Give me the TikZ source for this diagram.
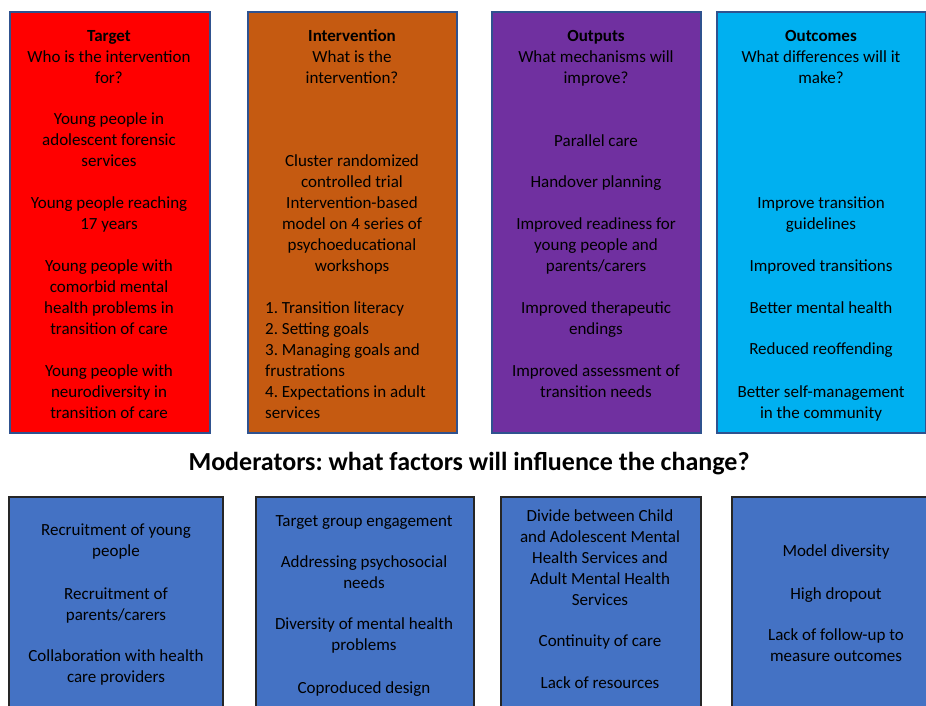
\documentclass[tikz,border=0pt]{standalone}
\usepackage{fontspec}
\setmainfont{Carlito}
\frenchspacing

\definecolor{tgtred}{HTML}{FF0000}
\definecolor{intorange}{HTML}{C55A11}
\definecolor{outpurple}{HTML}{7030A0}
\definecolor{occyan}{HTML}{00B0F0}
\definecolor{modblue}{HTML}{4472C4}
\definecolor{boxedge}{HTML}{2F528F}

\tikzset{
  colbox/.style={draw=boxedge, line width=1.5pt, anchor=north west, inner sep=0pt,
                 minimum height=421pt},
  modbox/.style={draw=black!85, line width=2pt, fill=modblue, anchor=north west,
                 inner sep=0pt, minimum height=240pt},
  % nodes are placed at the baseline of their last line
  txt/.style={font=\fontsize{17}{20.9}\selectfont, align=center, anchor=base, inner sep=0pt},
}

\begin{document}
\begin{tikzpicture}[x=1pt,y=-1pt]
    \useasboundingbox (0,0) rectangle (926,705);
    % logic model columns
    \node[colbox, fill=tgtred,    minimum width=200pt] (target)  at (9,11)   {};
    \node[colbox, fill=intorange, minimum width=209pt] (interv)  at (247,11) {};
    \node[colbox, fill=outpurple, minimum width=209pt] (outputs) at (491,11) {};
    \node[colbox, fill=occyan,    minimum width=209pt] (outcome) at (716,11) {};
    % target
    \node[txt] (tgthead) at (109,83)  {\textbf{Target}\\Who is the intervention\\for?};
    \node[txt] (tgt1)    at (109,166) {Young people in\\adolescent forensic\\services};
    \node[txt] (tgt2)    at (109,229) {Young people reaching\\17 years};
    \node[txt] (tgt3)    at (109,334) {Young people with\\comorbid mental\\health problems in\\transition of care};
    \node[txt] (tgt4)    at (109,418) {Young people with\\neurodiversity in\\transition of care};
    % intervention
    \node[txt] (inthead) at (352,83)  {\textbf{Intervention}\\What is the\\intervention?};
    \node[txt] (int1)    at (352,271) {Cluster randomized\\controlled trial\\Intervention-based\\model on 4 series of\\psychoeducational\\workshops};
    \node[txt, anchor=base west, align=left] (int2) at (265,418)
        {1. Transition literacy\\2. Setting goals\\3. Managing goals and\\frustrations\\4. Expectations in adult\\services};
    % outputs
    \node[txt] (outhead) at (596,83)  {\textbf{Outputs}\\What mechanisms will\\improve?};
    \node[txt] (out1)    at (596,146) {Parallel care};
    \node[txt] (out2)    at (596,187) {Handover planning};
    \node[txt] (out3)    at (596,271) {Improved readiness for\\young people and\\parents/carers};
    \node[txt] (out4)    at (596,334) {Improved therapeutic\\endings};
    \node[txt] (out5)    at (596,397) {Improved assessment of\\transition needs};
    % outcomes
    \node[txt] (ochead)  at (821,83)  {\textbf{Outcomes}\\What differences will it\\make?};
    \node[txt] (oc1)     at (821,229) {Improve transition\\guidelines};
    \node[txt] (oc2)     at (821,271) {Improved transitions};
    \node[txt] (oc3)     at (821,313) {Better mental health};
    \node[txt] (oc4)     at (821,354) {Reduced reoffending};
    \node[txt] (oc5)     at (821,418) {Better self-management\\in the community};

    \node[anchor=base, inner sep=0pt, font=\fontsize{26}{30}\selectfont\bfseries] (modtitle)
        at (469,470) {Moderators: what factors will influence the change?};

    % moderators
    \node[modbox, minimum width=214pt] (mod1) at (8,496)   {};
    \node[modbox, minimum width=218pt] (mod2) at (255,496) {};
    \node[modbox, minimum width=200pt] (mod3) at (500,496) {};
    \node[modbox, minimum width=215pt] (mod4) at (731,496) {};
    \node[txt] (m1a) at (116,556) {Recruitment of young\\people};
    \node[txt] (m1b) at (116,620) {Recruitment of\\parents/carers};
    \node[txt] (m1c) at (116,682) {Collaboration with health\\care providers};
    \node[txt] (m2a) at (364,526) {Target group engagement};
    \node[txt] (m2b) at (364,588) {Addressing psychosocial\\needs};
    \node[txt] (m2c) at (364,650) {Diversity of mental health\\problems};
    \node[txt] (m2d) at (364,693) {Coproduced design};
    \node[txt] (m3a) at (600,605) {Divide between Child\\and Adolescent Mental\\Health Services and\\Adult Mental Health\\Services};
    \node[txt] (m3b) at (600,646) {Continuity of care};
    \node[txt] (m3c) at (600,688) {Lack of resources};
    \node[txt] (m4a) at (836,556) {Model diversity};
    \node[txt] (m4b) at (836,599) {High dropout};
    \node[txt] (m4c) at (836,661) {Lack of follow-up to\\measure outcomes};
\end{tikzpicture}
\end{document}
